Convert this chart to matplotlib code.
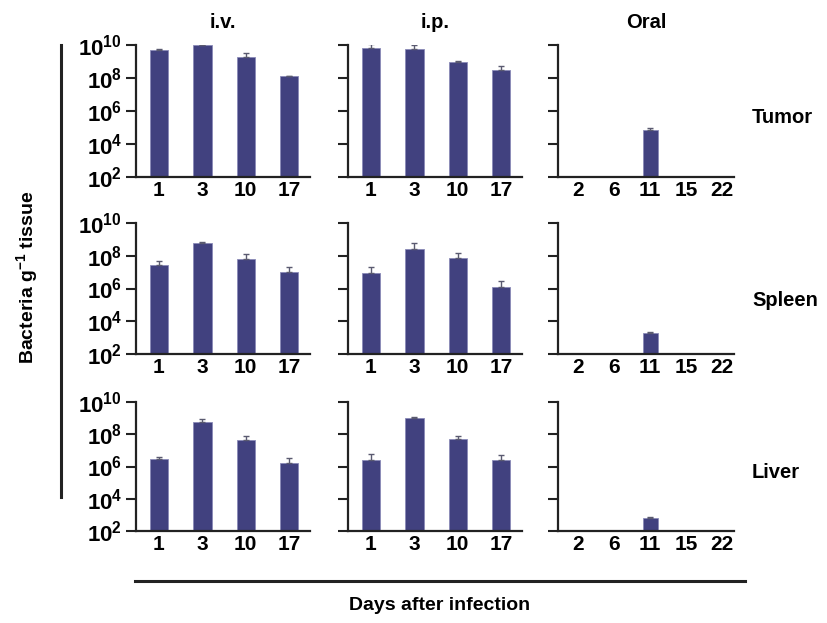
import numpy as np
import matplotlib
matplotlib.use("Agg")
import matplotlib.pyplot as plt
from matplotlib.lines import Line2D

plt.rcParams["font.family"] = ["Liberation Sans", "DejaVu Sans"]
plt.rcParams["font.weight"] = "bold"
plt.rcParams["mathtext.fontset"] = "custom"
plt.rcParams["mathtext.rm"] = "Liberation Sans:bold"
plt.rcParams["mathtext.bf"] = "Liberation Sans:bold"
plt.rcParams["mathtext.it"] = "Liberation Sans:bold"

# days after infection per route
days_iv = ["1", "3", "10", "17"]
days_ip = ["1", "3", "10", "17"]
days_oral = ["2", "6", "11", "15", "22"]

routes = ["i.v.", "i.p.", "Oral"]
organs = ["Tumor", "Spleen", "Liver"]

# log10(bacteria per g tissue), mean and top of error bar
tumor_iv = [9.7, 10.0, 9.3, 8.1]
tumor_iv_top = [9.78, 10.0, 9.5, 8.15]
tumor_ip = [9.8, 9.75, 9.0, 8.5]
tumor_ip_top = [10.05, 9.98, 9.02, 8.75]
tumor_oral = [np.nan, np.nan, 4.85, np.nan, np.nan]
tumor_oral_top = [np.nan, np.nan, 4.95, np.nan, np.nan]

spleen_iv = [7.45, 8.8, 7.8, 7.0]
spleen_iv_top = [7.7, 8.85, 8.1, 7.3]
spleen_ip = [6.95, 8.4, 7.85, 6.1]
spleen_ip_top = [7.3, 8.8, 8.15, 6.45]
spleen_oral = [np.nan, np.nan, 3.3, np.nan, np.nan]
spleen_oral_top = [np.nan, np.nan, 3.35, np.nan, np.nan]

liver_iv = [6.45, 8.75, 7.65, 6.2]
liver_iv_top = [6.6, 8.95, 7.9, 6.5]
liver_ip = [6.4, 9.0, 7.7, 6.4]
liver_ip_top = [6.8, 9.1, 7.9, 6.7]
liver_oral = [np.nan, np.nan, 2.8, np.nan, np.nan]
liver_oral_top = [np.nan, np.nan, 2.85, np.nan, np.nan]

data = [
    [(tumor_iv, tumor_iv_top), (tumor_ip, tumor_ip_top), (tumor_oral, tumor_oral_top)],
    [(spleen_iv, spleen_iv_top), (spleen_ip, spleen_ip_top), (spleen_oral, spleen_oral_top)],
    [(liver_iv, liver_iv_top), (liver_ip, liver_ip_top), (liver_oral, liver_oral_top)],
]
day_labels = [days_iv, days_ip, days_oral]

W, H = 828, 623
fig = plt.figure(figsize=(W / 100, H / 100), dpi=100)

# axes boxes in pixels: (left, right), (top, bottom)
cols_px = [(136, 310), (348, 522), (558, 734)]
rows_px = [(45, 177), (223, 354), (402, 531)]

bar_color = "#41417f"
ytick_vals = [1e2, 1e4, 1e6, 1e8, 1e10]
ytick_labels = [r"$10^{2}$", r"$10^{4}$", r"$10^{6}$", r"$10^{8}$", r"$10^{10}$"]

for r, (top, bot) in enumerate(rows_px):
    for c, (lft, rgt) in enumerate(cols_px):
        ax = fig.add_axes([lft / W, 1 - bot / H, (rgt - lft) / W, (bot - top) / H])
        vals, tops = data[r][c]
        labels = day_labels[c]
        x = np.arange(len(labels))
        v = 10 ** np.array(vals, dtype=float)
        t = 10 ** np.array(tops, dtype=float)
        ax.bar(x, v - 1e2, bottom=1e2, width=0.42, color=bar_color,
               edgecolor="#8a8ab8", linewidth=0.6, zorder=2)
        ax.errorbar(x, v, yerr=[np.zeros_like(v), t - v], fmt="none",
                    ecolor="#5a5a70", elinewidth=1.0, capsize=2.5, capthick=1.0,
                    zorder=3)
        ax.set_yscale("log")
        ax.set_ylim(1e2, 1e10)
        if c == 2:
            ax.set_xlim(-0.56, 4.33)
        else:
            ax.set_xlim(-0.53, 3.48)
        ax.set_xticks(x)
        ax.set_xticklabels(labels, fontsize=15, fontweight="bold")
        ax.tick_params(axis="x", length=0, pad=3)
        ax.set_yticks(ytick_vals)
        ax.yaxis.set_minor_locator(matplotlib.ticker.NullLocator())
        if c == 0:
            ax.set_yticklabels(ytick_labels, fontsize=16)
        else:
            ax.set_yticklabels([])
        ax.tick_params(axis="y", length=7, width=1.5, color="#222222", pad=3)
        for s in ["top", "right"]:
            ax.spines[s].set_visible(False)
        for s in ["left", "bottom"]:
            ax.spines[s].set_linewidth(1.6)
            ax.spines[s].set_color("#222222")
        ax.patch.set_alpha(0)
        if r == 0:
            ax.set_title(routes[c], fontsize=14.5, fontweight="bold", pad=12)

# organ labels on the right
for name, ypx in zip(organs, [117, 300, 473]):
    fig.text(752 / W, 1 - ypx / H, name, fontsize=14.5, fontweight="bold",
             ha="left", va="center")

# left axis label and bracket line
fig.add_artist(Line2D([61 / W, 61 / W], [1 - 45 / H, 1 - 497 / H],
                      color="#222222", linewidth=2.2))
fig.text(27 / W, 1 - 277 / H, r"Bacteria g$^{-1}$ tissue", rotation=90,
         fontsize=14, fontweight="bold", ha="center", va="center")

# bottom axis label and line
fig.add_artist(Line2D([135 / W, 745 / W], [1 - 581 / H, 1 - 581 / H],
                      color="#222222", linewidth=2.2))
fig.text(440 / W, 1 - 606 / H, "Days after infection", fontsize=14,
         fontweight="bold", ha="center", va="center")

fig.savefig("out.png", dpi=100)
